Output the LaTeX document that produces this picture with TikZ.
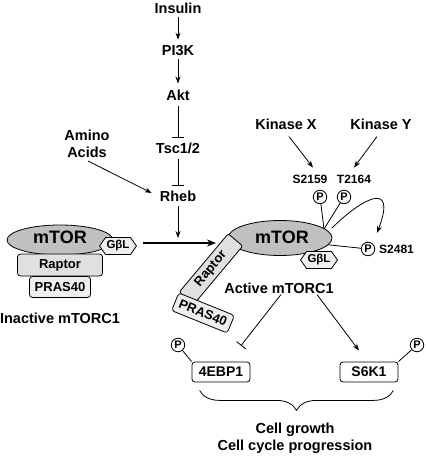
\documentclass[tikz,border=0pt]{standalone}
\usepackage{fontspec}
\setmainfont{Liberation Sans}
\usetikzlibrary{arrows.meta,shapes.geometric,shapes.symbols,decorations.pathreplacing}

\definecolor{torgray}{RGB}{192,192,192}
\definecolor{raptorgray}{RGB}{224,224,224}
\definecolor{lightbox}{RGB}{238,238,238}

\tikzset{
  lbl/.style={font=\bfseries\fontsize{14.5}{17}\selectfont, inner sep=1pt},
  sitelbl/.style={font=\bfseries\fontsize{12}{14}\selectfont, inner sep=1pt},
  tor/.style={ellipse, draw, fill=torgray, line width=0.8pt, font=\bfseries\fontsize{18}{20}\selectfont, inner sep=0pt},
  subunit/.style={draw, rounded corners=3pt, line width=0.8pt, font=\bfseries\fontsize{13}{15}\selectfont, inner sep=0pt},
  gbl/.style={signal, signal to=east and west, signal pointer angle=110, draw, fill=lightbox, line width=0.8pt, font=\bfseries\fontsize{11.5}{13}\selectfont, inner sep=1pt, minimum width=31pt, minimum height=17pt},
  phos/.style={circle, draw, fill=white, line width=0.8pt, font=\bfseries\fontsize{11}{12}\selectfont, inner sep=0pt, minimum size=13.5pt},
  target/.style={draw, fill=white, rounded corners=3pt, line width=0.8pt, minimum width=58pt, minimum height=20pt, font=\bfseries\fontsize{14}{16}\selectfont, inner sep=0pt},
  arr/.style={-{Stealth[length=7pt,width=5pt]}, line width=0.8pt},
  inh/.style={-{Bar[width=12pt]}, line width=0.8pt},
}

\begin{document}
\begin{tikzpicture}[x=1pt,y=1pt]
\useasboundingbox (0,0) rectangle (425,-457);

% upstream signals
\node[lbl] (insulin) at (178,-8) {Insulin};
\node[lbl] (pi3k) at (178,-51) {PI3K};
\node[lbl] (akt) at (178,-95) {Akt};
\node[lbl] (tsc) at (178,-148) {Tsc1/2};
\node[lbl] (rheb) at (178,-196) {Rheb};
\node[lbl, align=center] (amino) at (87,-144) {Amino\\Acids};
\node[lbl] (kinx) at (286,-124) {Kinase X};
\node[lbl] (kiny) at (381,-124) {Kinase Y};

\draw[arr, shorten <=2pt, shorten >=5pt] (insulin) -- (pi3k);
\draw[arr, shorten <=2pt, shorten >=5pt] (pi3k) -- (akt);
\draw[inh, shorten <=4pt, shorten >=4pt] (akt) -- (tsc);
\draw[inh, shorten <=4pt, shorten >=4pt] (tsc) -- (rheb);
\draw[arr] ([xshift=1pt,yshift=-2pt]amino.south) -- ([xshift=-7pt,yshift=3pt]rheb.west);

% inactive complex
\node[tor, minimum width=106pt, minimum height=30pt] (itor) at (60,-240) {};
\node[font=\bfseries\fontsize{18}{20}\selectfont] at (60,-237) {mTOR};
\node[subunit, fill=raptorgray, minimum width=85pt, minimum height=22pt] (iraptor) at (60,-265) {Raptor};
\node[subunit, fill=lightbox, minimum width=61pt, minimum height=21pt] (ipras) at (60,-287) {PRAS40};
\node[gbl] (igbl) at (118,-246) {GβL};
\node[lbl] (inactive) at (60,-318) {Inactive mTORC1};

% activation
\coordinate (actfrom) at (143,-243);
\coordinate (actto) at (216,-243);
\draw[-{Stealth[length=9pt,width=7pt]}, line width=1.8pt] (actfrom) -- (actto);
\draw[arr, shorten <=3pt] (rheb) -- (178,-238);

% active complex
\node[tor, minimum width=104pt, minimum height=35pt] (ator) at (280,-238) {};
\node[subunit, fill=raptorgray, rounded corners=2pt, minimum width=76pt, minimum height=19pt, rotate=50] (araptor) at (211,-269) {Raptor};
\node[subunit, fill=lightbox, minimum width=60pt, minimum height=19pt, rotate=-22] (apras) at (203,-313) {PRAS40};
\node[font=\bfseries\fontsize{18}{20}\selectfont] at (282,-237) {mTOR};
\node[gbl] (agbl) at (319,-260) {GβL};
\node[lbl] (active) at (279,-288) {Active mTORC1};

% phosphorylation sites
\node[sitelbl] (s2159) at (310,-179) {S2159};
\node[sitelbl] (t2164) at (354,-179) {T2164};
\node[phos] (ps2159) at (320,-197) {P};
\node[phos] (pt2164) at (344,-197) {P};
\node[phos] (ps2481) at (368,-249) {P};
\node[sitelbl, anchor=west] (s2481) at (378,-249) {S2481};
\coordinate (site) at (324,-229);
\coordinate (loopst) at (332,-228);
\coordinate (loopend) at (377,-233);

\draw[line width=0.8pt] (ps2159) -- (site);
\draw[line width=0.8pt] (pt2164) -- (site);
\draw[line width=0.8pt] (ator.352) -- (ps2481);
\draw[arr] (loopst) .. controls (360,-200) and (398,-178) .. (loopend);
\draw[arr] ([xshift=3pt,yshift=-6pt]kinx.south) -- ([xshift=3pt,yshift=6pt]s2159.north);
\draw[arr] ([xshift=-4pt,yshift=-6pt]kiny.south) -- ([xshift=0pt,yshift=6pt]t2164.north);

% downstream targets
\node[target] (ebp) at (221,-372) {4EBP1};
\node[target] (s6k) at (369,-372) {S6K1};
\node[phos] (pebp) at (178,-345) {P};
\node[phos] (ps6k) at (417,-345) {P};
\draw[line width=0.8pt] (pebp) -- (ebp.north west);
\draw[line width=0.8pt] (ps6k) -- (s6k.north east);

\draw[inh] ([xshift=2pt]active.south) -- ([xshift=20pt,yshift=16pt]ebp.north);
\draw[arr] ([xshift=38pt]active.south) -- ([xshift=-10pt,yshift=11pt]s6k.north);

\draw[line width=0.8pt, decorate, decoration={brace, mirror, amplitude=20pt}] ([xshift=8pt,yshift=-8pt]ebp.south west) -- ([xshift=-5pt,yshift=-8pt]s6k.south east);
\node[lbl, align=center] (growth) at (295,-438) {Cell growth\\Cell cycle progression};
\end{tikzpicture}
\end{document}
